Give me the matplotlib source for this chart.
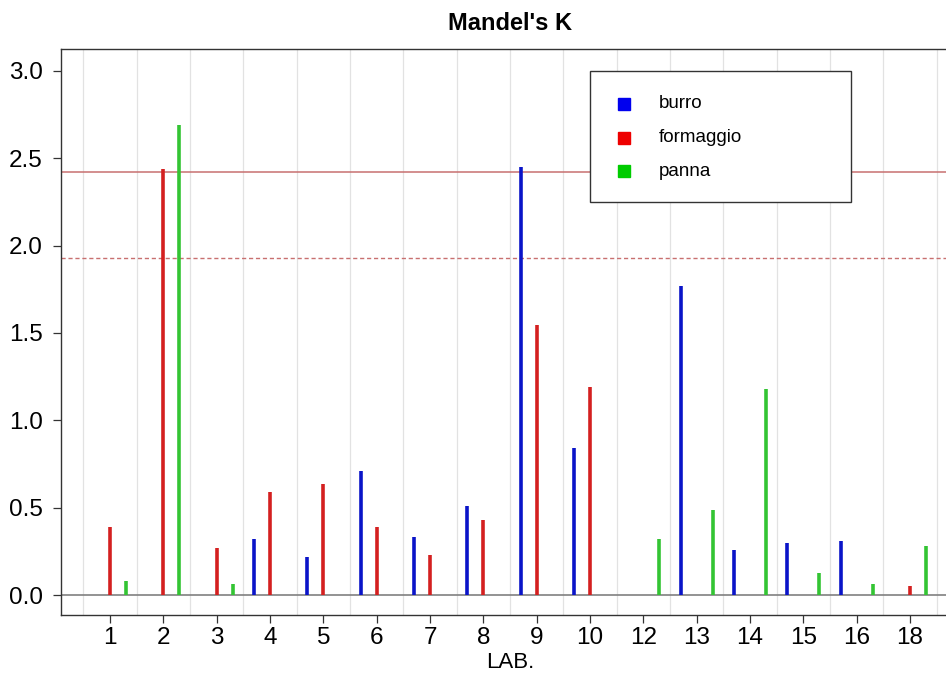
import numpy as np
import matplotlib.pyplot as plt
from matplotlib.patches import Rectangle

plt.rcParams['font.family'] = ['Liberation Sans', 'DejaVu Sans']

# labs on the x axis
labs = ['1', '2', '3', '4', '5', '6', '7', '8', '9', '10', '12', '13', '14', '15', '16', '18']

# Mandel's k per matrix (nan = no value)
burro = [np.nan, np.nan, np.nan, 0.32, 0.22, 0.71, 0.33, 0.51, 2.45, 0.84,
         np.nan, 1.77, 0.26, 0.30, 0.31, np.nan]
formaggio = [0.39, 2.44, 0.27, 0.59, 0.635, 0.39, 0.23, 0.43, 1.545, 1.19,
             np.nan, np.nan, np.nan, np.nan, np.nan, 0.05]
panna = [0.08, 2.69, 0.065, np.nan, np.nan, np.nan, np.nan, np.nan, np.nan, np.nan,
         0.32, 0.485, 1.18, 0.124, 0.065, 0.28]

k_crit1 = 2.42   # 1% limit
k_crit5 = 1.93   # 5% limit

names = ['burro', 'formaggio', 'panna']
bar_cols = ['#0a14c8', '#d42020', '#33c433']
leg_cols = ['#0000ee', '#ee0000', '#00cc00']
offsets = [-0.3, 0.0, 0.3]

fig = plt.figure(figsize=(9.46, 6.75), dpi=100)
ax = fig.add_axes([61/946, 60/675, 898/946, 566/675])

pos = np.arange(1, len(labs) + 1)

# light vertical grid between labs
for g in np.arange(0.5, len(labs) + 1, 1):
    ax.axvline(g, color='#e2e2e2', lw=0.9, zorder=0)

ax.axhline(0, color='#808080', lw=1.2, zorder=1)
ax.axhline(k_crit1, color='#c87070', lw=1.1, zorder=1)
ax.axhline(k_crit5, color='#c87070', lw=1.0, ls=(0, (3, 2)), zorder=1)

for vals, col, off in zip([burro, formaggio, panna], bar_cols, offsets):
    v = np.array(vals, dtype=float)
    ok = ~np.isnan(v)
    ax.vlines(pos[ok] + off, 0, v[ok], color=col, lw=2.6, zorder=3)

ax.set_xlim(0.08, len(labs) + 0.92)
ax.set_ylim(-0.114, 3.125)
ax.set_xticks(pos)
ax.set_xticklabels(labs)
ax.set_yticks([0, 0.5, 1.0, 1.5, 2.0, 2.5, 3.0])
ax.set_yticklabels(['0.0', '0.5', '1.0', '1.5', '2.0', '2.5', '3.0'])
ax.tick_params(axis='both', labelsize=17.5, length=6, width=0.9, color='#333333', direction='out')
ax.tick_params(axis='x', pad=3)
ax.tick_params(axis='y', pad=7)
for s in ax.spines.values():
    s.set_color('#333333')
    s.set_linewidth(1.0)

ax.set_xlabel('LAB.', fontsize=16, labelpad=2)
ax.set_title("Mandel's K", fontsize=17, fontweight='bold', pad=14)

# legend box drawn by hand (pixel layout -> axes fraction)
def fx(px):
    return (px - 61) / 898

def fy(py):
    return (615 - py) / 566

ax.add_patch(Rectangle((fx(590), fy(202)), fx(851) - fx(590), fy(71) - fy(202),
                       transform=ax.transAxes, facecolor='white', edgecolor='#333333',
                       lw=1.0, zorder=5))
for i, (name, col) in enumerate(zip(names, leg_cols)):
    yy = fy(104 + i * 33.5)
    ax.plot([fx(624)], [yy], 's', color=col, markersize=8.5, transform=ax.transAxes,
            zorder=6, clip_on=False)
    ax.text(fx(659), yy, name, fontsize=13.5, va='center', ha='left',
            transform=ax.transAxes, zorder=6)

fig.savefig('out.png', dpi=100)
